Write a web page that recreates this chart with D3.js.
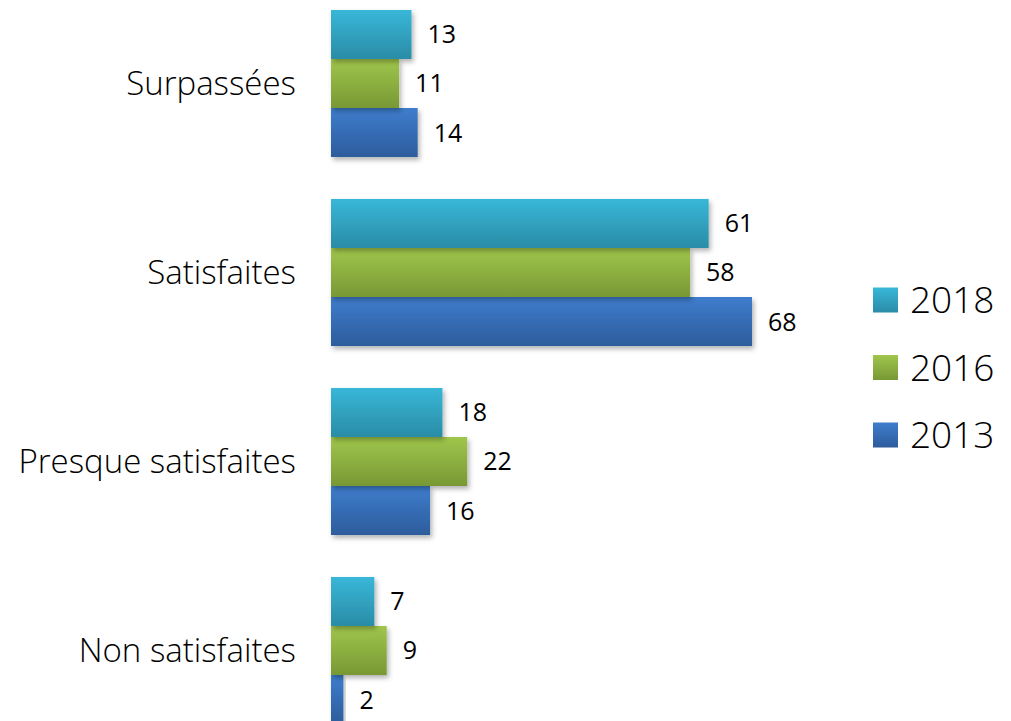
<!DOCTYPE html>
<html>
<head>
<meta charset="utf-8">
<script src="https://cdn.jsdelivr.net/npm/d3@7"></script>
<style>
  html, body { margin: 0; padding: 0; background: #fff; overflow: hidden; }
  svg { display: block; }
</style>
</head>
<body>
<svg id="chart" width="1011" height="721"></svg>
<script>
// Survey results: share of answers per category, three survey years
const categories = ["Surpassées", "Satisfaites", "Presque satisfaites", "Non satisfaites"];
const seriesNames = ["2018", "2016", "2013"];
const values2018 = [13, 61, 18, 7];
const values2016 = [11, 58, 22, 9];
const values2013 = [14, 68, 16, 2];
const seriesValues = [values2018, values2016, values2013];

const colorStops = {
  "2018": ["#38b7d8", "#2a8ca6"],
  "2016": ["#a0c64c", "#789834"],
  "2013": ["#3e7dcd", "#2d5c9c"]
};

const svg = d3.select("#chart");
const fontFamily = "'Open Sans', Lato, 'DejaVu Sans', sans-serif";

// gradients and soft shadow
const defs = svg.append("defs");
seriesNames.forEach((name, i) => {
  const g = defs.append("linearGradient")
    .attr("id", "grad" + i)
    .attr("x1", 0).attr("y1", 0).attr("x2", 0).attr("y2", 1);
  g.append("stop").attr("offset", "0%").attr("stop-color", colorStops[name][0]);
  g.append("stop").attr("offset", "100%").attr("stop-color", colorStops[name][1]);
});
const shadow = defs.append("filter").attr("id", "shadow")
  .attr("x", "-10%").attr("y", "-10%").attr("width", "130%").attr("height", "140%");
shadow.append("feDropShadow")
  .attr("dx", 2).attr("dy", 3).attr("stdDeviation", 2.5)
  .attr("flood-color", "#000").attr("flood-opacity", 0.3);

// scales
const x0 = 331;
const x = d3.scaleLinear().domain([0, 68]).range([x0, 752]);
const y = d3.scaleBand().domain(categories).range([-11, 745])
  .paddingInner(0.222).paddingOuter(0.111);
const ySub = d3.scaleBand().domain(seriesNames).range([0, y.bandwidth()]);

// bars, drawn from the bottom series up so upper bars' shadows sit beneath
const groups = svg.append("g").selectAll("g")
  .data(categories)
  .join("g")
  .attr("transform", d => `translate(0,${y(d)})`);

[2, 1, 0].forEach(si => {
  groups.append("rect")
    .attr("x", x0)
    .attr("y", ySub(seriesNames[si]))
    .attr("width", (d, ci) => x(seriesValues[si][ci]) - x0)
    .attr("height", ySub.bandwidth())
    .attr("fill", `url(#grad${si})`)
    .attr("filter", "url(#shadow)");
});

// value labels
seriesNames.forEach((name, si) => {
  groups.append("text")
    .attr("x", (d, ci) => x(seriesValues[si][ci]) + 16)
    .attr("y", ySub(name) + ySub.bandwidth() / 2)
    .attr("dy", "0.36em")
    .attr("font-family", fontFamily)
    .attr("font-size", 25)
    .attr("fill", "#000")
    .text((d, ci) => seriesValues[si][ci]);
});

// category axis labels
const yAxis = d3.axisLeft(y).tickSize(0).tickPadding(0);
const axisG = svg.append("g")
  .attr("transform", `translate(296,0)`)
  .call(yAxis);
axisG.select(".domain").remove();
axisG.selectAll("text")
  .attr("font-family", fontFamily)
  .attr("font-weight", 300)
  .attr("font-size", 33)
  .attr("fill", "#000")
  .attr("dy", "0.36em");

// legend
const legend = svg.append("g").selectAll("g")
  .data(seriesNames)
  .join("g")
  .attr("transform", (d, i) => `translate(873,${300 + i * 67.5})`);
legend.append("rect")
  .attr("x", 0).attr("y", -12.5)
  .attr("width", 25).attr("height", 25)
  .attr("fill", (d, i) => `url(#grad${i})`);
legend.append("text")
  .attr("x", 37).attr("y", 0).attr("dy", "0.36em")
  .attr("font-family", fontFamily)
  .attr("font-weight", 300)
  .attr("font-size", 37)
  .attr("fill", "#000")
  .text(d => d);
</script>
</body>
</html>
